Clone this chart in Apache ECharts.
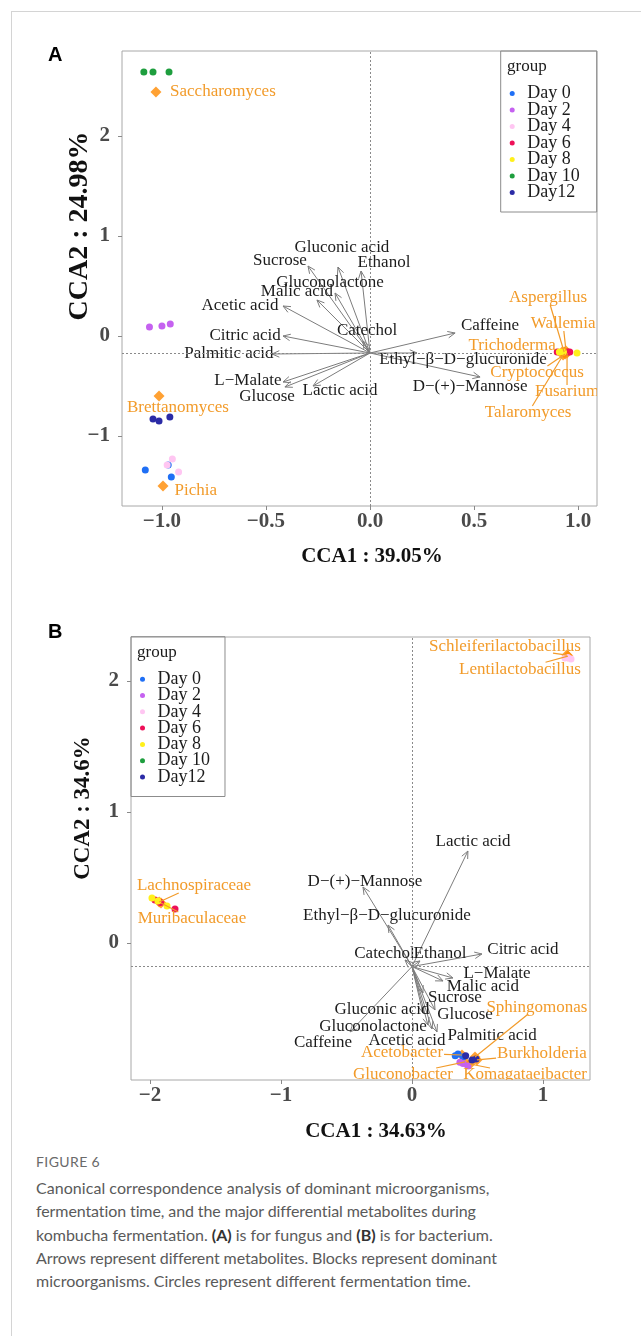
<!DOCTYPE html>
<html><head><meta charset="utf-8">
<script src="https://cdn.jsdelivr.net/npm/echarts@6/dist/echarts.min.js"></script>
<style>
html,body{margin:0;padding:0;background:#fff;width:641px;height:1336px;overflow:hidden;}
#frame{position:absolute;left:11px;top:11px;width:640px;height:1340px;border-left:1px solid #d4d4d4;border-top:1px solid #d4d4d4;}
#chart{position:absolute;left:0;top:0;width:641px;height:1145px;}
#fig{position:absolute;left:36px;top:1153px;font-family:Lato,'Open Sans',sans-serif;font-size:14px;letter-spacing:0.4px;line-height:18px;color:#6a6a6a;}
#cap{position:absolute;left:36px;top:1176px;width:600px;font-family:Lato,'Open Sans',sans-serif;font-size:16px;line-height:23.3px;color:#5a5a5a;margin:0;white-space:nowrap;}
#cap b{color:#333;}
#cap .l1{letter-spacing:0.05px;}
#cap .l2,#cap .l4{letter-spacing:-0.1px;}
</style></head>
<body>
<div id="frame"></div>
<div id="chart"></div>
<div id="fig">FIGURE 6</div>
<p id="cap"><span class="l1">Canonical correspondence analysis of dominant microorganisms,</span><br><span class="l2">fermentation time, and the major differential metabolites during</span><br><span class="l3">kombucha fermentation. <b>(A)</b> is for fungus and <b>(B)</b> is for bacterium.</span><br><span class="l4">Arrows represent different metabolites. Blocks represent dominant</span><br><span class="l5">microorganisms. Circles represent different fermentation time.</span></p>
<script>
// ---------------- DATA ----------------
const dayNames = ['Day 0', 'Day 2', 'Day 4', 'Day 6', 'Day 8', 'Day 10', 'Day12'];

// Panel A (fungi): sample scores [CCA1, CCA2] per day
const fungiDay0  = [[-1.08, -1.34], [-0.97, -1.29], [-0.955, -1.41]];
const fungiDay2  = [[-1.06, 0.09], [-1.00, 0.10], [-0.96, 0.12]];
const fungiDay4  = [[-0.975, -1.29], [-0.95, -1.23], [-0.92, -1.36]];
const fungiDay6  = [[0.90, -0.16], [0.95, -0.16], [0.96, -0.16]];
const fungiDay8  = [[0.91, -0.16], [0.93, -0.16], [0.995, -0.17]];
const fungiDay10 = [[-1.087, 2.64], [-1.043, 2.64], [-0.966, 2.64]];
const fungiDay12 = [[-1.043, -0.83], [-1.014, -0.85], [-0.962, -0.81]];
const fungiDays = [fungiDay0, fungiDay2, fungiDay4, fungiDay6, fungiDay8, fungiDay10, fungiDay12];

// fungi taxa scores and repelled label anchors
const fungiTaxa   = ['Saccharomyces', 'Brettanomyces', 'Pichia', 'Aspergillus', 'Wallemia', 'Trichoderma', 'Cryptococcus', 'Fusarium', 'Talaromyces'];
const fungiTaxaX  = [-1.029, -1.014, -0.995, 0.933, 0.942, 0.923, 0.938, 0.947, 0.928];
const fungiTaxaY  = [2.44, -0.60, -1.50, -0.16, -0.15, -0.16, -0.18, -0.17, -0.19];
const fungiTaxaLabelX = [-0.707, -0.923, -0.837, 0.856, 0.928, 0.683, 0.803, 0.947, 0.760];
const fungiTaxaLabelY = [2.44, -0.72, -1.55, 0.38, 0.12, -0.10, -0.37, -0.56, -0.77];

// fungi metabolite arrows
const fungiOrigin = [0, -0.17];
const fungiMetab = ['Sucrose', 'Gluconic acid', 'Ethanol', 'Gluconolactone', 'Malic acid', 'Acetic acid', 'Citric acid', 'Catechol', 'Palmitic acid', 'L\u2212Malate', 'Glucose', 'Lactic acid', 'Caffeine', 'Ethyl\u2212\u03b2\u2212D\u2212glucuronide', 'D\u2212(+)\u2212Mannose'];
const fungiMetabX = [-0.298, -0.154, -0.043, -0.168, -0.255, -0.418, -0.418, -0.034, -0.471, -0.418, -0.409, -0.274, 0.409, 0.226, 0.529];
const fungiMetabY = [0.70, 0.69, 0.65, 0.43, 0.36, 0.30, 0.0, -0.05, -0.18, -0.46, -0.51, -0.50, 0.03, -0.17, -0.41];
const fungiMetabLabelX = [-0.433, -0.135, 0.067, -0.192, -0.351, -0.625, -0.60, -0.014, -0.678, -0.587, -0.495, -0.144, 0.577, 0.447, 0.481];
const fungiMetabLabelY = [0.75, 0.88, 0.73, 0.53, 0.44, 0.30, 0.0, 0.05, -0.18, -0.45, -0.61, -0.55, 0.10, -0.24, -0.51];

// Panel B (bacteria)
const bactDay0  = [[0.33, -0.86], [0.351, -0.847], [0.389, -0.87]];
const bactDay2  = [[0.366, -0.91], [0.39, -0.92], [0.427, -0.94]];
const bactDay4  = [[1.168, 2.176], [1.19, 2.18], [1.214, 2.168]];
const bactDay6  = [[-1.962, 0.328], [-1.92, 0.31], [-1.809, 0.26]];
const bactDay8  = [[-1.985, 0.344], [-1.94, 0.32], [-1.87, 0.282]];
const bactDay10 = [];
const bactDay12 = [[0.41, -0.86], [0.458, -0.893], [0.489, -0.885]];
const bactDays = [bactDay0, bactDay2, bactDay4, bactDay6, bactDay8, bactDay10, bactDay12];

const bactTaxa  = ['Schleiferilactobacillus', 'Lentilactobacillus', 'Lachnospiraceae', 'Muribaculaceae', 'Sphingomonas', 'Burkholderia', 'Acetobacter', 'Gluconobacter', 'Komagataeibacter'];
const bactTaxaX = [1.183, 1.19, -1.93, -1.916, 0.481, 0.496, 0.382, 0.405, 0.443];
const bactTaxaY = [2.198, 2.19, 0.313, 0.305, -0.87, -0.893, -0.855, -0.908, -0.924];
const bactTaxaLabelX = [0.71, 0.824, -1.664, -1.68, 0.954, 0.992, -0.076, -0.069, 0.863];
const bactTaxaLabelY = [2.267, 2.09, 0.435, 0.183, -0.489, -0.847, -0.84, -1.008, -1.008];

const bactOrigin = [0, -0.18];
const bactMetab = ['Lactic acid', 'D\u2212(+)\u2212Mannose', 'Ethyl\u2212\u03b2\u2212D\u2212glucuronide', 'Citric acid', 'Catechol', 'Ethanol', 'L\u2212Malate', 'Malic acid', 'Sucrose', 'Glucose', 'Gluconic acid', 'Gluconolactone', 'Palmitic acid', 'Acetic acid', 'Caffeine'];
const bactMetabX = [0.427, -0.374, -0.183, 0.534, -0.053, 0.061, 0.313, 0.237, 0.084, 0.176, 0.084, 0.122, 0.191, 0.153, -0.473];
const bactMetabY = [0.702, 0.427, 0.137, -0.084, -0.13, -0.137, -0.267, -0.29, -0.382, -0.511, -0.534, -0.626, -0.679, -0.656, -0.679];
const bactMetabLabelX = [0.466, -0.359, -0.191, 0.847, -0.21, 0.214, 0.649, 0.542, 0.328, 0.405, -0.229, -0.298, 0.611, -0.038, -0.679];
const bactMetabLabelY = [0.771, 0.466, 0.206, -0.053, -0.084, -0.084, -0.237, -0.336, -0.42, -0.55, -0.511, -0.641, -0.71, -0.748, -0.763];

// axes
const fungiXRange = [-1.192, 1.091], fungiYRange = [-1.70, 2.85];
const bactXRange = [-2.145, 1.359], bactYRange = [-1.046, 2.336];
const fungiXTicks = [-1, -0.5, 0, 0.5, 1], fungiYTicks = [-1, 0, 1, 2];
const bactXTicks = [-2, -1, 0, 1], bactYTicks = [0, 1, 2];
const fungiXTitle = 'CCA1 : 39.05%', fungiYTitle = 'CCA2 : 24.98%';
const bactXTitle = 'CCA1 : 34.63%', bactYTitle = 'CCA2 : 34.6%';

// ---------------- STYLE ----------------
const dayColors = ['#1f6ff5', '#c561f0', '#ffc6f2', '#ee1058', '#fff01a', '#1e9e3e', '#2b2ba6'];
const SERIF = "'Liberation Serif','Times New Roman',serif";
const ARROW = '#7c7c7c', ORG = '#f29b2a', DIAM = '#ff8a00';

const ctx = document.createElement('canvas').getContext('2d');
ctx.font = "17px 'Liberation Serif'";
function tw(t) { return ctx.measureText(t).width; }

function minusFmt(dec) {
  return v => (v < 0 ? '\u2212' : '') + Math.abs(v).toFixed(dec);
}

function axisPair(gi, xr, yr, xt, yt, xdec) {
  const lab = { color: '#4a4a4a', fontFamily: SERIF, fontWeight: 'bold', fontSize: 21 };
  const tick = { show: true, length: 4, lineStyle: { color: '#8a8a8a' } };
  return {
    x: { type: 'value', gridIndex: gi, min: xr[0], max: xr[1], position: 'bottom',
      axisLine: { show: false, onZero: false },
      splitLine: { show: false },
      axisTick: Object.assign({ customValues: xt }, tick),
      axisLabel: Object.assign({ customValues: xt, formatter: minusFmt(xdec), margin: 5 }, lab) },
    y: { type: 'value', gridIndex: gi, min: yr[0], max: yr[1], position: 'left',
      axisLine: { show: false, onZero: false },
      splitLine: { show: false },
      axisTick: Object.assign({ customValues: yt }, tick),
      axisLabel: Object.assign({ customValues: yt, formatter: minusFmt(0), margin: 12 }, lab) }
  };
}

function arrowSeries(gi, origin, tx, ty) {
  const data = tx.map((x, i) => [origin[0], origin[1], x, ty[i]]);
  return {
    type: 'custom', xAxisIndex: gi, yAxisIndex: gi, z: 2, clip: true, silent: true,
    data: data,
    renderItem: function (params, api) {
      const p0 = api.coord([api.value(0), api.value(1)]);
      const p1 = api.coord([api.value(2), api.value(3)]);
      const ang = Math.atan2(p1[1] - p0[1], p1[0] - p0[0]);
      const L = 8, a = Math.PI / 7.5;
      const h1 = [p1[0] - L * Math.cos(ang - a), p1[1] - L * Math.sin(ang - a)];
      const h2 = [p1[0] - L * Math.cos(ang + a), p1[1] - L * Math.sin(ang + a)];
      return { type: 'group', children: [
        { type: 'line', shape: { x1: p0[0], y1: p0[1], x2: p1[0], y2: p1[1] }, style: { stroke: ARROW, lineWidth: 1 } },
        { type: 'polyline', shape: { points: [h1, p1, h2] }, style: { stroke: ARROW, lineWidth: 1, fill: null } }
      ] };
    },
    markLine: { silent: true, symbol: 'none', animation: false, label: { show: false },
      lineStyle: { color: '#8a8a8a', type: [2, 2], width: 1 },
      data: [{ xAxis: origin[0] }, { yAxis: origin[1] }] }
  };
}

function textSeries(gi, names, lx, ly) {
  return {
    type: 'custom', xAxisIndex: gi, yAxisIndex: gi, z: 3, clip: true, silent: true,
    data: lx.map((x, i) => [x, ly[i], i]),
    renderItem: function (params, api) {
      const p = api.coord([api.value(0), api.value(1)]);
      return { type: 'text', x: p[0], y: p[1], style: { text: names[api.value(2)], fill: '#1c1c1c',
        font: "17px 'Liberation Serif'", align: 'center', verticalAlign: 'middle' } };
    }
  };
}

function repelSeries(gi, names, px, py, lx, ly) {
  return {
    type: 'custom', xAxisIndex: gi, yAxisIndex: gi, z: 6, clip: true, silent: true,
    data: px.map((x, i) => [x, py[i], lx[i], ly[i], i]),
    renderItem: function (params, api) {
      const p = api.coord([api.value(0), api.value(1)]);
      const l = api.coord([api.value(2), api.value(3)]);
      const txt = names[api.value(4)];
      const w = tw(txt) + 2, h = 14;
      const dx = p[0] - l[0], dy = p[1] - l[1];
      const s = Math.min(dx ? (w / 2) / Math.abs(dx) : Infinity, dy ? (h / 2) / Math.abs(dy) : Infinity);
      const ch = [];
      if (s < 1) {
        const e = [l[0] + dx * s, l[1] + dy * s];
        if (Math.hypot(p[0] - e[0], p[1] - e[1]) > 14) {
          ch.push({ type: 'line', shape: { x1: p[0], y1: p[1], x2: e[0], y2: e[1] }, style: { stroke: ORG, lineWidth: 1.2 } });
        }
      }
      ch.push({ type: 'text', x: l[0], y: l[1], style: { text: txt, fill: ORG,
        font: "17px 'Liberation Serif'", align: 'center', verticalAlign: 'middle' } });
      return { type: 'group', children: ch };
    }
  };
}

function daySeries(gi, sets) {
  return sets.map((d, i) => ({
    name: dayNames[i], type: 'scatter', xAxisIndex: gi, yAxisIndex: gi, z: 5,
    symbol: 'circle', symbolSize: 7, data: d,
    itemStyle: { color: dayColors[i], opacity: 1 }
  }));
}

function diamondSeries(gi, px, py) {
  return { type: 'scatter', xAxisIndex: gi, yAxisIndex: gi, z: 4, symbol: 'diamond', symbolSize: [11, 11],
    data: px.map((x, i) => [x, py[i]]), itemStyle: { color: DIAM } };
}

const axA = axisPair(0, fungiXRange, fungiYRange, fungiXTicks, fungiYTicks, 1);
const axB = axisPair(1, bactXRange, bactYRange, bactXTicks, bactYTicks, 0);

function legendCfg(left, top, gap, pr) {
  return {
    data: dayNames, orient: 'vertical', left: left, top: top, selectedMode: false,
    icon: 'circle', itemWidth: 20, itemHeight: 5, itemGap: gap,
    padding: [33.5, pr, 10.5, 9], borderColor: '#8c8c8c', borderWidth: 1,
    textStyle: { fontFamily: SERIF, fontSize: 18, color: '#1c1c1c', padding: [0, 0, 0, 0] }
  };
}

const option = {
  animation: false,
  backgroundColor: 'transparent',
  grid: [
    { left: 122, top: 51, width: 475, height: 455, show: true, borderColor: '#a8a8a8', borderWidth: 1 },
    { left: 131, top: 637, width: 459, height: 443, show: true, borderColor: '#a8a8a8', borderWidth: 1 }
  ],
  xAxis: [axA.x, axB.x],
  yAxis: [axA.y, axB.y],
  legend: [legendCfg(500.7, 51, -1.5, 17), legendCfg(131, 636.7, -1.7, 15)],
  graphic: [
    { type: 'text', left: 48, top: 45, style: { text: 'A', font: "bold 20px 'Liberation Sans',sans-serif", fill: '#000' } },
    { type: 'text', left: 48, top: 622, style: { text: 'B', font: "bold 20px 'Liberation Sans',sans-serif", fill: '#000' } },
    { type: 'text', x: 507, y: 67, z: 100, style: { text: 'group', font: "17px 'Liberation Serif'", fill: '#1c1c1c', verticalAlign: 'middle' } },
    { type: 'text', x: 137, y: 653, z: 100, style: { text: 'group', font: "17px 'Liberation Serif'", fill: '#1c1c1c', verticalAlign: 'middle' } },
    { type: 'text', x: 372, y: 557, style: { text: fungiXTitle, align: 'center', verticalAlign: 'middle', font: "bold 21px 'Liberation Serif'", fill: '#111' } },
    { type: 'text', x: 376, y: 1132, style: { text: bactXTitle, align: 'center', verticalAlign: 'middle', font: "bold 21px 'Liberation Serif'", fill: '#111' } },
    { type: 'text', x: 80, y: 226, rotation: Math.PI / 2, style: { text: fungiYTitle, align: 'center', verticalAlign: 'middle', font: "bold 28px 'Liberation Serif'", fill: '#111' } },
    { type: 'text', x: 83, y: 808, rotation: Math.PI / 2, style: { text: bactYTitle, align: 'center', verticalAlign: 'middle', font: "bold 23px 'Liberation Serif'", fill: '#111' } }
  ],
  series: [].concat(
    [arrowSeries(0, fungiOrigin, fungiMetabX, fungiMetabY), textSeries(0, fungiMetab, fungiMetabLabelX, fungiMetabLabelY)],
    [diamondSeries(0, fungiTaxaX, fungiTaxaY)],
    daySeries(0, fungiDays),
    [repelSeries(0, fungiTaxa, fungiTaxaX, fungiTaxaY, fungiTaxaLabelX, fungiTaxaLabelY)],
    [arrowSeries(1, bactOrigin, bactMetabX, bactMetabY), textSeries(1, bactMetab, bactMetabLabelX, bactMetabLabelY)],
    [diamondSeries(1, bactTaxaX, bactTaxaY)],
    daySeries(1, bactDays),
    [repelSeries(1, bactTaxa, bactTaxaX, bactTaxaY, bactTaxaLabelX, bactTaxaLabelY)]
  )
};

const chart = echarts.init(document.getElementById('chart'), null, { renderer: 'canvas' });
chart.setOption(option);
</script>
</body></html>
